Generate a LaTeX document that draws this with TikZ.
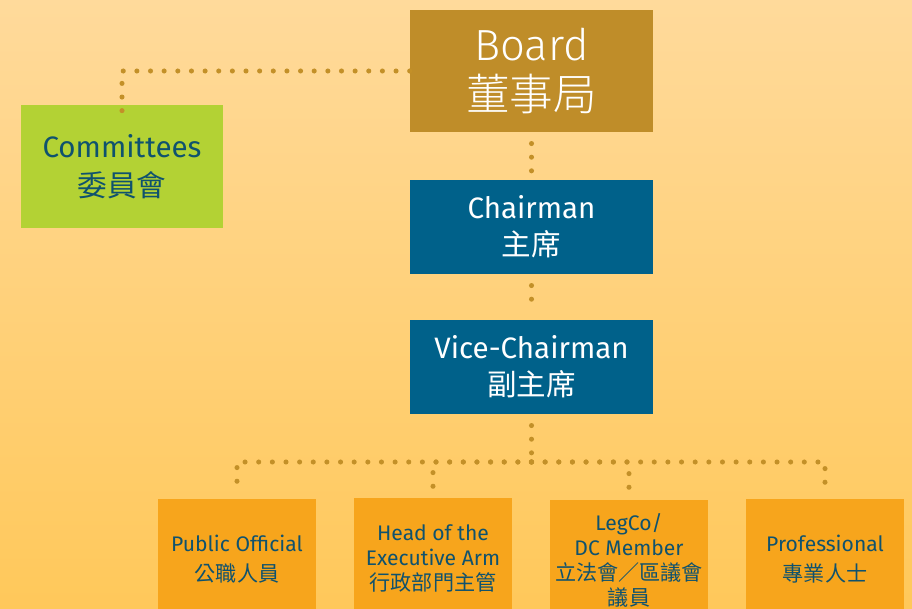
\documentclass[tikz,border=0pt]{standalone}
\usepackage{fontspec}
\setmainfont{Fira Sans}
\newfontfamily\light{Fira Sans Light}
\newfontfamily\cjk{Noto Sans CJK TC}
\newfontfamily\cjklight{Noto Sans CJK TC Light}
\usetikzlibrary{positioning}

\definecolor{bgtop}{HTML}{FFDA9B}
\definecolor{bgbot}{HTML}{FFC85A}
\definecolor{boardcol}{HTML}{BF8D29}
\definecolor{chaircol}{HTML}{00618A}
\definecolor{commcol}{HTML}{B3D234}
\definecolor{membcol}{HTML}{F7A51C}
\definecolor{dotcol}{HTML}{C39028}
\definecolor{inkcol}{HTML}{0F526E}

\tikzset{
  box/.style={rectangle,inner sep=0pt,align=center,text=white},
  topbox/.style={box,fill=boardcol,minimum width=6.075cm,minimum height=3.05cm,
    font=\fontsize{31}{36}\selectfont\light},
  chairbox/.style={box,fill=chaircol,minimum width=6.075cm,minimum height=2.35cm,
    font=\fontsize{21}{26.5}\selectfont},
  commbox/.style={box,fill=commcol,text=inkcol,minimum width=5.05cm,minimum height=3.075cm,
    font=\fontsize{21}{27.5}\selectfont},
  membbox/.style={box,fill=membcol,text=inkcol,minimum width=3.95cm,minimum height=3cm,
    font=\fontsize{15}{21}\selectfont},
  dots/.style={dotcol,line width=3.6pt,line cap=round,dash pattern=on 0pt off 9.7pt},
}

\begin{document}
\begin{tikzpicture}[x=0.025cm,y=-0.025cm]
\clip (0,0) rectangle (912,609);
\shade[top color=bgtop,bottom color=bgbot] (0,0) rectangle (912,609);

\node[topbox] (board) at (531.5,71) {Board\\{\cjklight 董事局}};
\node[chairbox] (chair) at (531.5,227) {Chairman\\{\cjk 主席}};
\node[chairbox] (vice) at (531.5,367) {Vice-Chairman\\{\cjk 副主席}};
\node[commbox] (comm) at (122,166.5) {Committees\\{\cjk 委員會}};

\node[membbox] (pub) at (237,559) {Public Official\\{\cjk 公職人員}};
\node[membbox,font=\fontsize{15}{17.8}\selectfont] (head) at (433,558)
  {Head of the\\Executive Arm\\{\cjk 行政部門主管}};
\node[membbox,font=\fontsize{15}{17.8}\selectfont] (leg) at (629,560)
  {LegCo/\\DC Member\\{\cjk 立法會／區議會}\\{\cjk 議員}};
\node[membbox] (pro) at (825,559) {Professional\\{\cjk 專業人士}};

\coordinate (hub) at (531.5,462);

\draw[dots] (board.west) -| ([yshift=-8pt]comm.north);
\draw[dots,shorten <=8pt,shorten >=6pt] (board.south) -- (chair.north);
\draw[dots,shorten <=8pt,shorten >=6pt] (chair.south) -- (vice.north);
\draw[dots,shorten <=8pt] (vice.south) -- (hub);
\foreach \m in {pub,head,leg,pro}
  \draw[dots,shorten >=6pt] (hub) -| (\m.north);
\end{tikzpicture}
\end{document}
